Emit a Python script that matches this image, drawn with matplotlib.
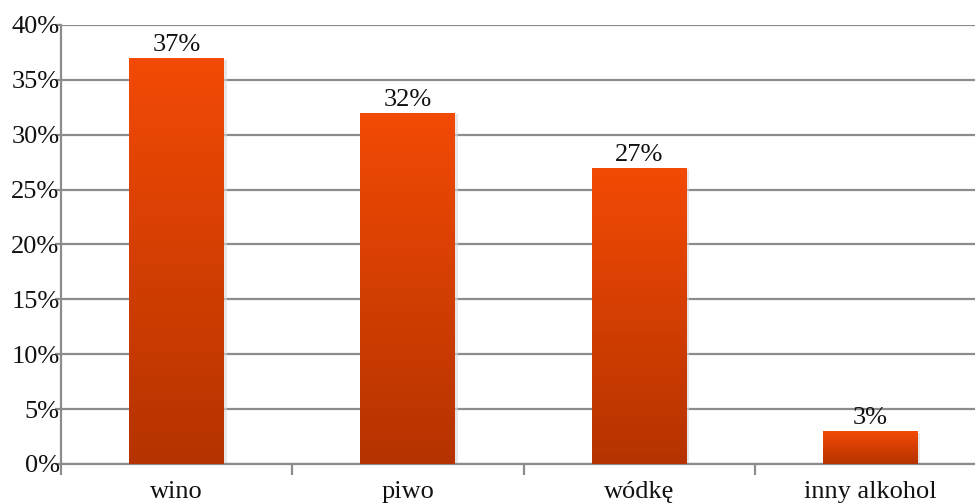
import numpy as np
import matplotlib.pyplot as plt
from matplotlib.colors import LinearSegmentedColormap

categories = ['wino', 'piwo', 'wódkę', 'inny alkohol']
values = [37, 32, 27, 3]
value_labels = ['37%', '32%', '27%', '3%']
y_ticks = [0, 5, 10, 15, 20, 25, 30, 35, 40]

plt.rcParams['font.family'] = ['Liberation Serif', 'DejaVu Serif']

fig = plt.figure(figsize=(9.75, 5.03), dpi=100)
ax = fig.add_axes([61/975, 39/503, 925/975, 439/503])

x = np.arange(len(categories))
bars = ax.bar(x, values, width=0.41, color='none', edgecolor='none', zorder=3)

# vertical gradient fill for each bar
cmap = LinearSegmentedColormap.from_list('og', ['#b53300', '#f34a05'])
grad = np.linspace(0, 1, 256).reshape(-1, 1)
for b in bars:
    x0, y0 = b.get_x(), b.get_y()
    w, h = b.get_width(), b.get_height()
    # soft shadow
    ax.bar(x0 + w/2 + 0.006, h, width=w + 0.01, bottom=-0.15, color='#d8d8d8',
           zorder=2, alpha=0.6)
    im = ax.imshow(grad, cmap=cmap, aspect='auto', origin='lower',
                   extent=[x0, x0 + w, y0, y0 + h], zorder=3)
    im.set_clip_path(b)

for xi, v, lab in zip(x, values, value_labels):
    ax.text(xi, v + 0.15, lab, ha='center', va='bottom', fontsize=19, color='#111111')

ax.set_xlim(-0.5, len(categories) - 0.5)
ax.set_ylim(0, 40)
ax.set_yticks(y_ticks)
ax.set_yticklabels([f'{t}%' for t in y_ticks])
ax.yaxis.grid(True, color='#8c8c8c', linewidth=1.6)
ax.set_axisbelow(True)

ax.set_xticks(x)
ax.set_xticklabels(categories)
ax.set_xticks(np.arange(len(categories) + 1) - 0.5, minor=True)
ax.tick_params(axis='x', which='major', length=0, pad=12, labelsize=19, labelcolor='#111111')
ax.tick_params(axis='x', which='minor', length=8, width=1.6, color='#8c8c8c')
ax.tick_params(axis='y', length=4, width=1.6, color='#8c8c8c', pad=-3, labelsize=19,
               labelcolor='#111111')

for s in ['top', 'right']:
    ax.spines[s].set_visible(False)
ax.spines['left'].set_color('#8c8c8c')
ax.spines['left'].set_linewidth(1.6)
ax.spines['bottom'].set_color('#8c8c8c')
ax.spines['bottom'].set_linewidth(1.6)

fig.savefig('out.png', dpi=100)
